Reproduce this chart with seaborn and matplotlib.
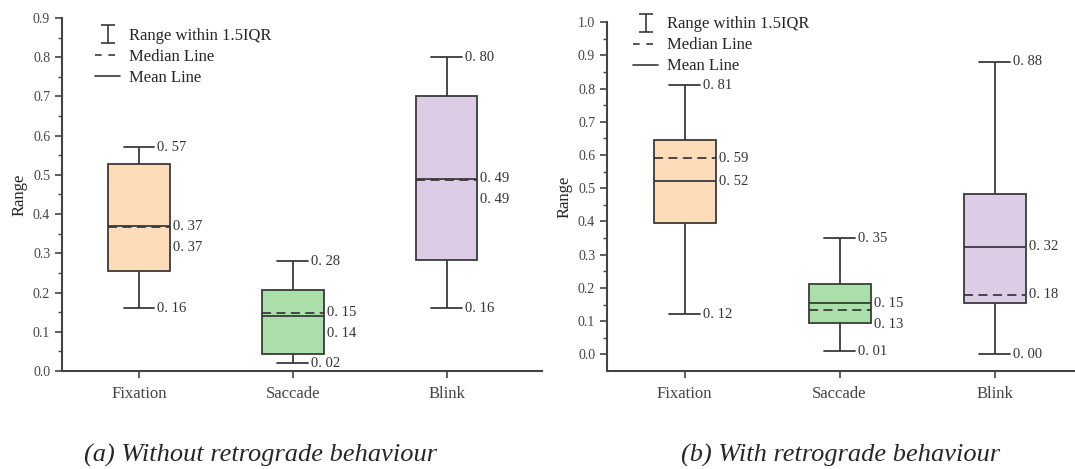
import numpy as np
import pandas as pd
import matplotlib.pyplot as plt
import seaborn as sns
from matplotlib.lines import Line2D
from matplotlib.path import Path

# Box statistics
cats = ["Fixation", "Saccade", "Blink"]

# (a) without retrograde behaviour
a_low = [0.16, 0.02, 0.16]
a_q1 = [0.255, 0.043, 0.282]
a_med = [0.366, 0.148, 0.488]
a_q3 = [0.527, 0.207, 0.70]
a_high = [0.57, 0.28, 0.80]
a_mean = [0.369, 0.139, 0.49]

# (b) with retrograde behaviour
b_low = [0.12, 0.01, 0.00]
b_q1 = [0.395, 0.095, 0.154]
b_med = [0.59, 0.134, 0.18]
b_q3 = [0.646, 0.212, 0.484]
b_high = [0.81, 0.35, 0.88]
b_mean = [0.521, 0.154, 0.324]

colors = ["#FDDCBA", "#AADFAA", "#DCCCE6"]
line_col = "#3a3a3a"

sns.set_style("ticks")
plt.rcParams['font.family'] = ['Liberation Serif', 'DejaVu Serif']
plt.rcParams['axes.edgecolor'] = "#444444"
plt.rcParams['xtick.color'] = "#444444"
plt.rcParams['ytick.color'] = "#444444"


def fmt(v):
    return f"{v:.2f}".replace(".", ". ")


def draw_panel(ax, low, q1, med, q3, high, mean, ylim, yticks, legend_anchor):
    # five-number summary per category -> seaborn recovers the same box
    rows = []
    for c, lo, a, m, b, hi in zip(cats, low, q1, med, q3, high):
        for v in (lo, a, m, b, hi):
            rows.append({"cat": c, "val": v})
    df = pd.DataFrame(rows)

    sns.boxplot(data=df, x="cat", y="val", hue="cat", order=cats, hue_order=cats,
                palette=colors, saturation=1, width=0.4, linecolor=line_col,
                linewidth=1.3, whis=1.5, legend=False, ax=ax,
                medianprops=dict(linestyle=(0, (5, 3)), color=line_col, linewidth=1.3))

    pos = np.arange(len(cats))
    ax.hlines(mean, pos - 0.2, pos + 0.2, color=line_col, linewidth=1.3, zorder=5)

    ax.set_ylim(*ylim)
    ax.set_xlim(-0.5, 2.62)
    ax.set_yticks(yticks)
    ax.set_yticklabels([f"{t:.1f}" for t in yticks], fontsize=10)
    ax.set_yticks(np.arange(yticks[0], yticks[-1] + 0.001, 0.05), minor=True)
    ax.tick_params(axis='y', which='major', length=5, width=1.2, direction='out')
    ax.tick_params(axis='y', which='minor', length=3, width=1.0, direction='out')
    ax.tick_params(axis='x', length=5, width=1.2, direction='out', labelsize=12, pad=6)
    ax.set_xlabel("")
    ax.set_ylabel("Range", fontsize=12, labelpad=4)
    for s in ["left", "bottom"]:
        ax.spines[s].set_linewidth(1.5)
    sns.despine(ax=ax)

    # value labels
    for p, lo, hi, m, mu in zip(pos, low, high, med, mean):
        ax.annotate(fmt(hi), xy=(p + 0.1, hi), xytext=(3, 0), textcoords='offset pixels',
                    va='center', ha='left', fontsize=10.5, color="#333333")
        ax.annotate(fmt(lo), xy=(p + 0.1, lo), xytext=(3, 0), textcoords='offset pixels',
                    va='center', ha='left', fontsize=10.5, color="#333333")
        upper, lower = max(m, mu), min(m, mu)
        up_px = ax.transData.transform((0, upper))[1]
        lo_px = ax.transData.transform((0, lower))[1]
        shift = min(0, (up_px - 21) - lo_px)
        ax.annotate(fmt(upper), xy=(p + 0.2, upper), xytext=(3, 0), textcoords='offset pixels',
                    va='center', ha='left', fontsize=10.5, color="#333333")
        ax.annotate(fmt(lower), xy=(p + 0.2, lower), xytext=(3, shift), textcoords='offset pixels',
                    va='center', ha='left', fontsize=10.5, color="#333333")

    # legend
    ibeam = Path([(-0.75, 1), (0.75, 1), (0, 1), (0, -1), (-0.75, -1), (0.75, -1)],
                 [Path.MOVETO, Path.LINETO, Path.MOVETO, Path.LINETO, Path.MOVETO, Path.LINETO])
    handles = [
        Line2D([], [], linestyle='none', marker=ibeam, markersize=13, color=line_col,
               markerfacecolor='none', markeredgewidth=1.2),
        Line2D([], [], linestyle=(0, (4, 4)), color=line_col, linewidth=1.2),
        Line2D([], [], linestyle='-', color=line_col, linewidth=1.2),
    ]
    ax.legend(handles, ["Range within 1.5IQR", "Median Line", "Mean Line"],
              loc='upper left', bbox_to_anchor=legend_anchor, frameon=False,
              fontsize=12, handlelength=1.5, handletextpad=0.55, labelspacing=0.3,
              borderaxespad=0)


fig = plt.figure(figsize=(10.75, 4.69), dpi=100)
ax1 = fig.add_axes([0.0577, 0.209, 0.4465, 0.7526])
ax2 = fig.add_axes([0.5647, 0.209, 0.45, 0.744])

draw_panel(ax1, a_low, a_q1, a_med, a_q3, a_high, a_mean,
           (0, 0.9), np.round(np.arange(0, 0.91, 0.1), 1), (0.055, 0.99))
draw_panel(ax2, b_low, b_q1, b_med, b_q3, b_high, b_mean,
           (-0.05, 1.0), np.round(np.arange(0, 1.01, 0.1), 1), (0.04, 1.035))

fig.text(0.242, 0.028, "(a) Without retrograde behaviour", style='italic',
         fontsize=19, ha='center', va='center')
fig.text(0.782, 0.028, "(b) With retrograde behaviour", style='italic',
         fontsize=19, ha='center', va='center')

plt.savefig("out.png", dpi=100)
